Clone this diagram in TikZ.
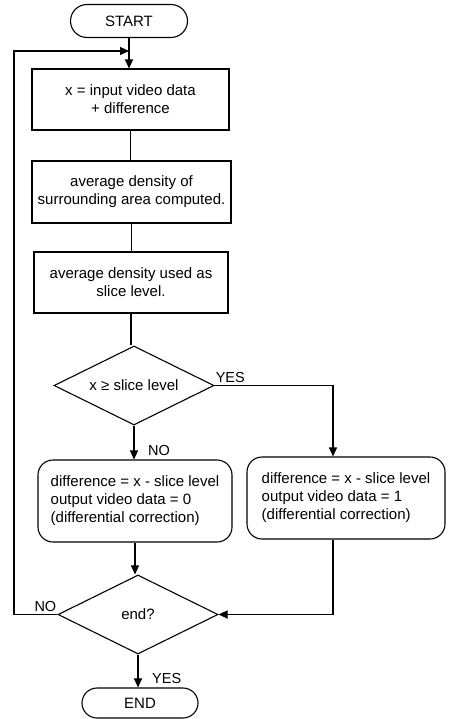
\documentclass[tikz,border=0pt]{standalone}
\usepackage{fontspec}
\setmainfont{Liberation Sans}
\usetikzlibrary{arrows.meta,shapes.geometric,shapes.misc}
\begin{document}
\begin{tikzpicture}[x=1pt,y=-1pt,
  every node/.style={font=\fontsize{15}{18}\selectfont, inner sep=0pt},
  line/.style={line width=1.1pt},
  flow/.style={line, -{Triangle[length=9pt,width=8pt]}},
  terminal/.style={draw, line width=1.1pt, rounded rectangle},
  procbox/.style={draw, line width=1.1pt, rectangle, align=center},
  roundbox/.style={draw, line width=1.1pt, rectangle, rounded corners=15pt, align=left},
  decision/.style={draw, line width=1.1pt, diamond, aspect=2},
  tag/.style={font=\fontsize{14.5}{16}\selectfont}
]
\useasboundingbox (0,0) rectangle (448,719);

% process chain
\node[terminal, minimum width=117pt, minimum height=33pt] (start) at (129,21) {START};
\node[procbox, minimum width=197pt, minimum height=61pt] (b1) at (130.5,99.5) {x = input video data\\+ difference};
\node[procbox, minimum width=199pt, minimum height=62pt] (b2) at (131.5,192) {average density of\\surrounding area computed.};
\node[procbox, minimum width=194pt, minimum height=61pt] (b3) at (131,282.5) {average density used as\\slice level.};
\node[decision, minimum width=160pt, minimum height=79pt] (d1) at (134,385.5) {x ≥ slice level};
\node[roundbox, minimum width=194pt, minimum height=82pt] (lb) at (135,501) {difference = x - slice level\\output video data = 0\\(differential correction)};
\node[roundbox, minimum width=198pt, minimum height=82pt] (rb) at (346,498) {difference = x - slice level\\output video data = 1\\(differential correction)};
\node[decision, minimum width=160pt, minimum height=79pt] (d2) at (138,614.5) {end?};
\node[terminal, minimum width=116pt, minimum height=30pt] (fin) at (140,703) {END};

% routing points
\coordinate (join) at (129,51);
\coordinate (yesx) at (333,385.5);
\coordinate (loopx) at (14,614.5);

% connectors
\draw[flow] (start.south) -- (start.south |- b1.north);
\draw[line] (b1.south) -- (b1.south |- b2.north);
\draw[line] (b2.south) -- (b2.south |- b3.north);
\draw[line] (b3.south) -- (b3.south |- d1.north);
\draw[flow] (d1.south) -- (d1.south |- lb.north);
\draw[flow] (d1.east) -- (yesx) -- (yesx |- rb.north);
\draw[flow] (lb.south) -- (lb.south |- d2.north);
\draw[flow] (yesx |- rb.south) |- (d2.east);
\draw[flow] (d2.west) -- (loopx) |- (join);
\draw[flow] (d2.south) -- (d2.south |- fin.north);

% branch labels
\node[tag, anchor=south west] (y1) at ([xshift=1pt,yshift=3pt]d1.east) {YES};
\node[tag, anchor=west] (n1) at (148,451) {NO};
\node[tag, anchor=south east] (n2) at ([xshift=-1pt,yshift=3pt]d2.west) {NO};
\node[tag, anchor=west] (y2) at (152,678) {YES};
\end{tikzpicture}
\end{document}
